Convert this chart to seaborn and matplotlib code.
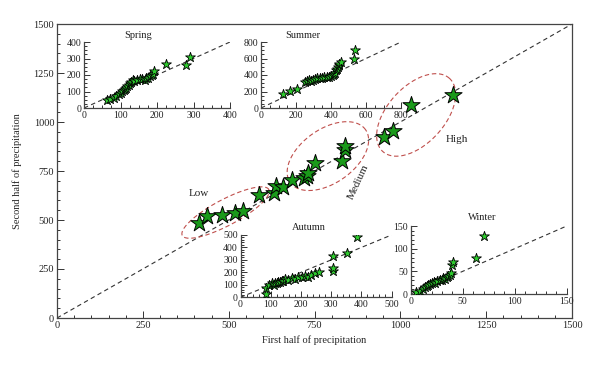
import matplotlib
matplotlib.use("Agg")
import matplotlib.pyplot as plt
from matplotlib.ticker import MultipleLocator, AutoMinorLocator
import seaborn as sns
import pandas as pd
import numpy as np

# main panel: yearly totals, first vs second half
main_x = [414, 438, 480, 518, 543, 589, 632, 638, 659, 684, 719, 727, 732, 750, 829, 838, 840, 951, 978, 1030, 1154]
main_y = [486, 520, 525, 534, 547, 628, 636, 673, 670, 704, 713, 725, 738, 792, 803, 858, 878, 922, 956, 1087, 1137]

spring_x = [64, 72, 82, 88, 96, 101, 105, 110, 113, 116, 119, 122, 125, 130, 133, 138, 146, 153, 160, 167, 171, 176, 180, 185, 188, 192, 226, 279, 291]
spring_y = [46, 55, 63, 72, 83, 92, 103, 108, 117, 124, 131, 140, 152, 158, 168, 162, 172, 176, 178, 172, 184, 180, 192, 198, 204, 222, 265, 263, 309]

summer_x = [124, 168, 206, 253, 262, 272, 283, 295, 308, 320, 335, 349, 362, 377, 390, 402, 410, 415, 422, 430, 436, 440, 445, 448, 457, 530, 535]
summer_y = [174, 202, 234, 315, 325, 335, 330, 343, 352, 368, 360, 368, 372, 376, 380, 384, 395, 408, 430, 457, 475, 497, 520, 537, 558, 598, 699]

autumn_x = [83, 85, 95, 103, 110, 114, 120, 125, 130, 136, 142, 147, 158, 169, 180, 191, 205, 213, 222, 232, 246, 260, 305, 307, 307, 354, 387]
autumn_y = [27, 72, 99, 112, 100, 112, 118, 126, 120, 134, 128, 144, 140, 152, 150, 160, 160, 171, 165, 180, 193, 206, 211, 238, 332, 358, 481]

winter_x = [5, 9, 12, 14, 16, 17, 19, 20, 22, 23, 25, 28, 30, 31, 33, 35, 36, 38, 39, 40, 41, 63, 70]
winter_y = [5, 7, 12, 16, 18, 20, 22, 24, 27, 25, 28, 31, 30, 35, 34, 38, 40, 42, 46, 64, 71, 79, 128]

# group ellipses: name, centre (data), label position (data), label rotation
groups = ["Low", "Medium", "High"]
group_centre = [(491, 538), (789, 826), (1046, 1036)]
group_label = [(414, 633), (877, 694), (1165, 913)]
group_rot = [0, 65, 0]
# semi axes in pixels and tilt in degrees
ell_a = [49, 46, 49.5]
ell_b = [13, 27, 28.5]
ell_tilt = [28, 35, 47.5]

sns.set_style("ticks")
plt.rcParams["font.family"] = ["Liberation Serif", "DejaVu Serif"]

W, H = 600, 367
fig = plt.figure(figsize=(W / 100, H / 100), dpi=100)

def px_axes(l, t, r, b):
    return fig.add_axes([l / W, 1 - b / H, (r - l) / W, (b - t) / H])

def style_axis(ax, major, nminor, size):
    ax.xaxis.set_major_locator(MultipleLocator(major))
    ax.yaxis.set_major_locator(MultipleLocator(major))
    ax.xaxis.set_minor_locator(AutoMinorLocator(nminor))
    ax.yaxis.set_minor_locator(AutoMinorLocator(nminor))
    ax.tick_params(which="both", direction="in", colors="#333333", labelsize=size,
                   labelcolor="#222222", width=0.7)
    ax.tick_params(which="major", length=4, pad=2)
    ax.tick_params(which="minor", length=2)

ax = px_axes(57, 24, 572, 318)
ax.plot([0, 1500], [0, 1500], ls=(0, (4, 3)), color="#333333", lw=0.8)
df = pd.DataFrame({"x": main_x, "y": main_y})
sns.scatterplot(data=df, x="x", y="y", ax=ax, marker="*", s=170, color="#1a9a1a",
                edgecolor="black", linewidth=0.7, zorder=3)
ax.set_xlim(0, 1500)
ax.set_ylim(0, 1500)
style_axis(ax, 250, 5, 7.5)
ax.tick_params(which="major", length=5)
for s in ax.spines.values():
    s.set_color("#444444")
    s.set_linewidth(0.9)
ax.set_xlabel("First half of precipitation", fontsize=7.5, labelpad=4)
ax.set_ylabel("Second half of precipitation", fontsize=7.5, labelpad=8)

# ellipses drawn in pixel space, converted to data units
sx = 1500 / (572 - 57)
sy = 1500 / (318 - 24)
t = np.linspace(0, 2 * np.pi, 200)
for i, g in enumerate(groups):
    th = np.radians(ell_tilt[i])
    dx = ell_a[i] * np.cos(t) * np.cos(th) - ell_b[i] * np.sin(t) * np.sin(th)
    dy = ell_a[i] * np.cos(t) * np.sin(th) + ell_b[i] * np.sin(t) * np.cos(th)
    cx, cy = group_centre[i]
    ax.plot(cx + dx * sx, cy + dy * sy, ls=(0, (4, 2.5)), color="#c0504d", lw=0.8)
    lx, ly = group_label[i]
    ax.text(lx, ly, g, fontsize=8, ha="center", va="center", rotation=group_rot[i],
            color="#222222")

insets = [
    ("Spring", spring_x, spring_y, 400, 100, 4, (84, 42, 230, 108)),
    ("Summer", summer_x, summer_y, 800, 200, 4, (261, 42, 401, 108)),
    ("Autumn", autumn_x, autumn_y, 500, 100, 5, (240.5, 235, 391.5, 297.3)),
    ("Winter", winter_x, winter_y, 150, 50, 5, (410.7, 226, 566.7, 294)),
]
title_px = [(138, 35), (303, 35), (309, 228), (482, 218)]

for k, (name, xs, ys, lim, major, nminor, box) in enumerate(insets):
    ia = px_axes(*box)
    ia.patch.set_alpha(0)
    ia.plot([0, lim], [0, lim], ls=(0, (4, 3)), color="#333333", lw=0.8)
    d = pd.DataFrame({"x": xs, "y": ys})
    sns.scatterplot(data=d, x="x", y="y", ax=ia, marker="*", s=55, color="#2ecc2e",
                    edgecolor="black", linewidth=0.6, zorder=3)
    ia.set_xlim(0, lim)
    ia.set_ylim(0, lim)
    style_axis(ia, major, nminor, 7)
    ia.spines["top"].set_visible(False)
    ia.spines["right"].set_visible(False)
    for s in ("left", "bottom"):
        ia.spines[s].set_color("#444444")
        ia.spines[s].set_linewidth(0.9)
    ia.set_xlabel("")
    ia.set_ylabel("")
    tx, ty = title_px[k]
    l, tp, r, b = box
    ia.text((tx - l) / (r - l), (b - ty) / (b - tp), name, transform=ia.transAxes,
            ha="center", va="center", fontsize=7.5, color="#222222")

fig.savefig("out.png", dpi=100)
